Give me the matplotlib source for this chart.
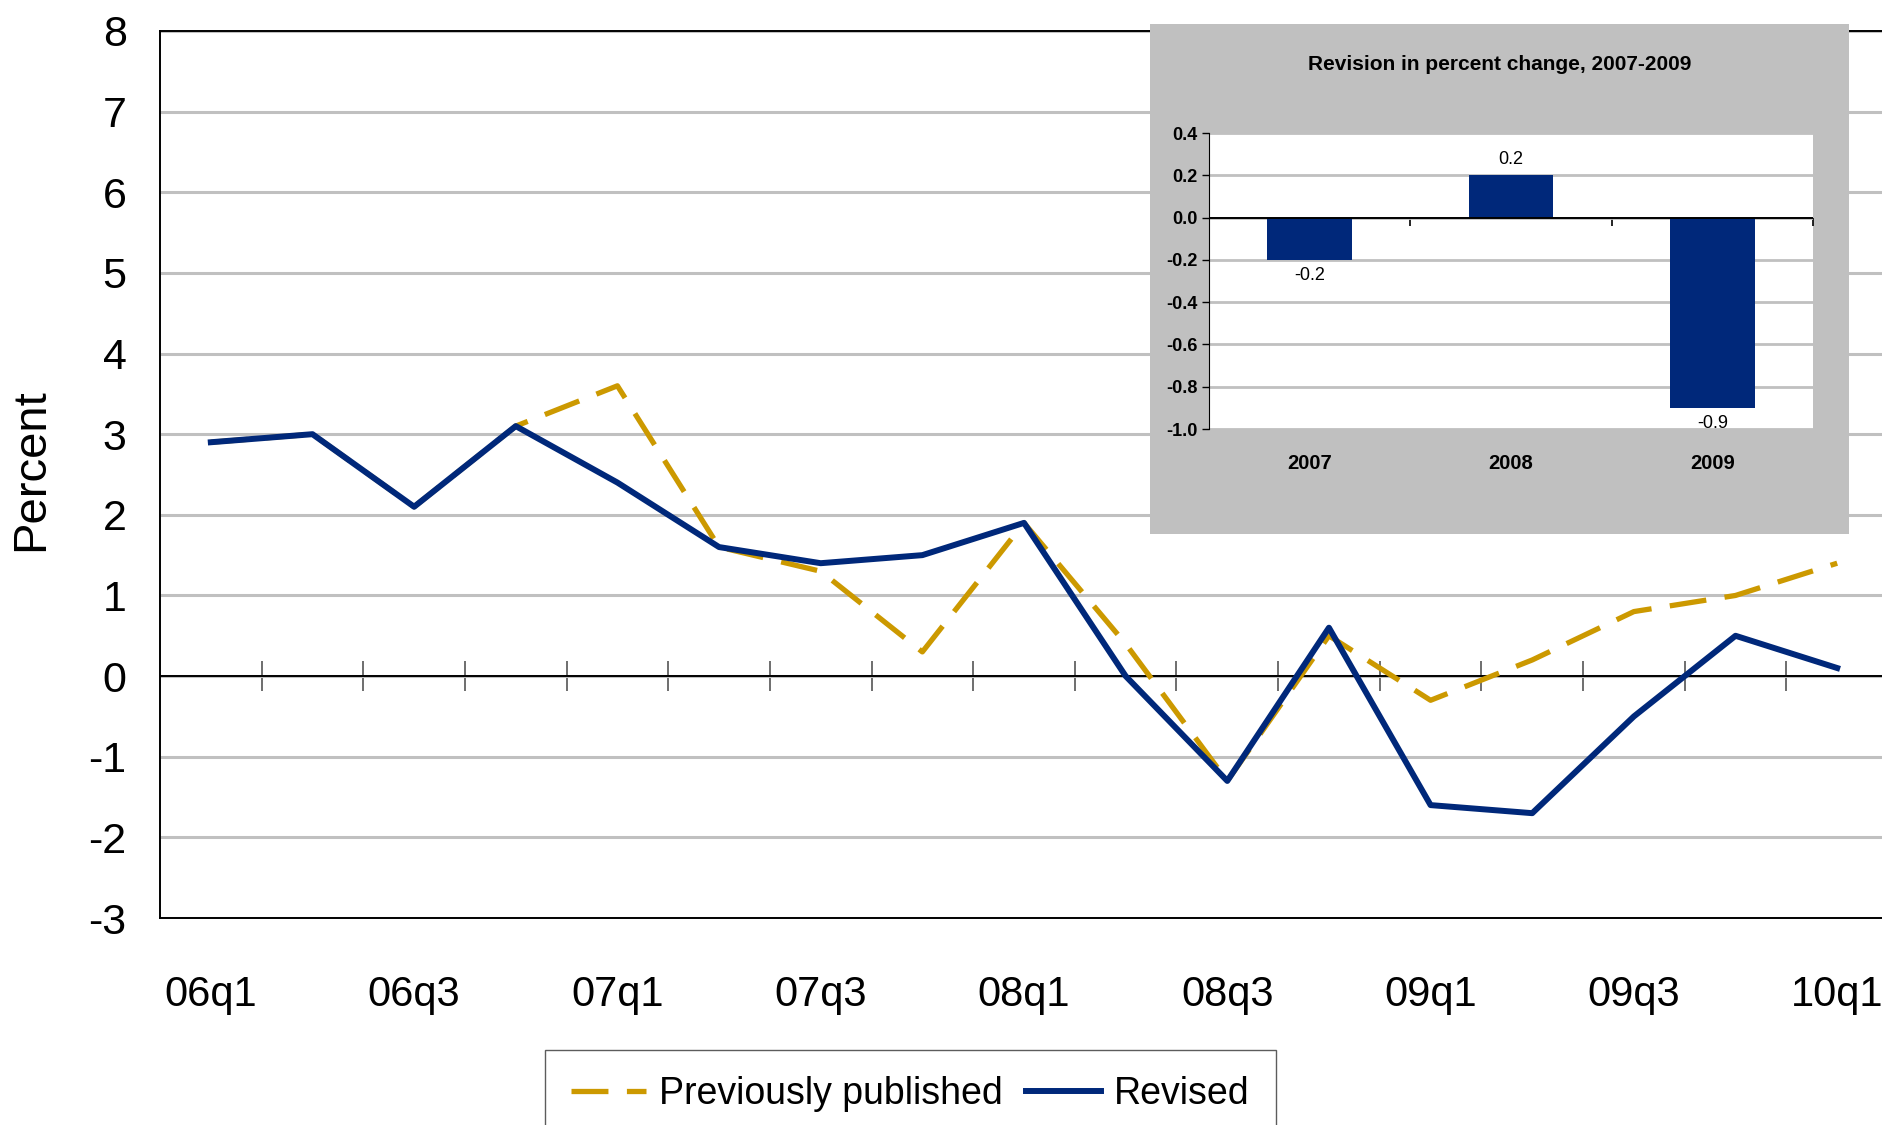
import matplotlib
matplotlib.use('Agg')
import matplotlib.pyplot as plt

quarters = ['06q1', '06q2', '06q3', '06q4', '07q1', '07q2', '07q3', '07q4',
            '08q1', '08q2', '08q3', '08q4', '09q1', '09q2', '09q3', '09q4', '10q1']
previous = [2.9, 3.0, 2.1, 3.1, 3.6, 1.6, 1.3, 0.3, 1.9, 0.4, -1.3, 0.5,
            -0.3, 0.2, 0.8, 1.0, 1.4]
revised = [2.9, 3.0, 2.1, 3.1, 2.4, 1.6, 1.4, 1.5, 1.9, 0.0, -1.3, 0.6,
           -1.6, -1.7, -0.5, 0.5, 0.1]

years = ['2007', '2008', '2009']
revision = [-0.2, 0.2, -0.9]

GOLD = '#CC9900'
NAVY = '#00287A'
GRID = '#C0C0C0'

plt.rcParams['font.family'] = 'Liberation Sans'
plt.rcParams['axes.unicode_minus'] = False

fig = plt.figure(figsize=(18.83, 11.25), dpi=100)

# main chart
ax = fig.add_axes([160 / 1883, 1 - 918 / 1125, 1728 / 1883, 887 / 1125])
x = list(range(len(quarters)))
ax.plot(x, previous, color=GOLD, lw=3.8, dashes=(7, 3.5), label='Previously published', zorder=3)
ax.plot(x, revised, color=NAVY, lw=4.3, label='Revised', zorder=4)
ax.set_xlim(-0.5, len(quarters) - 0.5)
ax.set_ylim(-3, 8)
ax.set_yticks(range(-3, 9))
ax.yaxis.grid(True, color=GRID, lw=2.2)
ax.set_axisbelow(True)
ax.axhline(0, color='black', lw=1.4, zorder=2)
ax.set_xticks(x[::2])
ax.set_xticklabels(quarters[::2])
ax.tick_params(axis='x', length=0, pad=41, labelsize=30)
ax.tick_params(axis='y', length=0, pad=24, labelsize=31)
for s in ['left', 'bottom', 'top']:
    ax.spines[s].set_color('black')
    ax.spines[s].set_linewidth(1.4)
ax.spines['right'].set_visible(False)
ax.set_ylabel('Percent', fontsize=34)
ax.yaxis.set_label_coords(-0.062, 0.505)

# zero axis with ticks between quarters
zero = ax.secondary_xaxis(3 / 11)
zero.set_xticks([i + 0.5 for i in x[:-1]])
zero.set_xticklabels([])
zero.tick_params(direction='inout', length=22, width=1.2, color='#555555')
zero.spines['bottom'].set_visible(False)
zero.spines['top'].set_visible(False)

fig.legend(loc='upper left', bbox_to_anchor=(545 / 1883, 1 - 1050 / 1125),
           ncol=2, fontsize=27, frameon=True, fancybox=False,
           edgecolor='#333333', borderaxespad=0, handlelength=2.0,
           handletextpad=0.35, columnspacing=0.6, borderpad=0.7)

# inset background
bg = fig.add_axes([1150 / 1883, 1 - 534 / 1125, 699 / 1883, 510 / 1125], zorder=5)
bg.set_facecolor(GRID)
bg.set_xticks([])
bg.set_yticks([])
for s in bg.spines.values():
    s.set_visible(False)
fig.text(1500 / 1883, 1 - 64 / 1125, 'Revision in percent change, 2007-2009',
         ha='center', va='center', fontsize=15, fontweight='bold', zorder=7)

ins = fig.add_axes([1209 / 1883, 1 - 429 / 1125, 604 / 1883, 296 / 1125], zorder=6)
ins.set_facecolor('white')
bars = ins.bar(range(len(years)), revision, width=0.42, color=NAVY, zorder=3)
ins.bar_label(bars, labels=['%.1f' % v for v in revision], padding=5, fontsize=13)
ins.set_xlim(-0.5, len(years) - 0.5)
ins.set_ylim(-1.0, 0.4)
yt = [-1.0, -0.8, -0.6, -0.4, -0.2, 0.0, 0.2, 0.4]
ins.set_yticks(yt)
ins.set_yticklabels(['%.1f' % v for v in yt], fontweight='bold')
ins.yaxis.grid(True, color=GRID, lw=2)
ins.set_axisbelow(True)
ins.set_xticks(range(len(years)))
ins.set_xticklabels(years, fontweight='bold')
ins.tick_params(axis='x', length=0, pad=18, labelsize=14.5)
ins.tick_params(axis='y', length=5, width=1, pad=3, labelsize=13)
for s in ['top', 'right', 'bottom']:
    ins.spines[s].set_visible(False)
ins.spines['left'].set_color('black')
ins.axhline(0, color='black', lw=1.4, zorder=4)

izero = ins.secondary_xaxis(1.0 / 1.4)
izero.set_xticks([0.5, 1.5, 2.5])
izero.set_xticklabels([])
izero.tick_params(direction='in', length=6, width=1.2, color='black')
izero.spines['bottom'].set_visible(False)
izero.spines['top'].set_visible(False)

fig.savefig('out.png', dpi=100)
